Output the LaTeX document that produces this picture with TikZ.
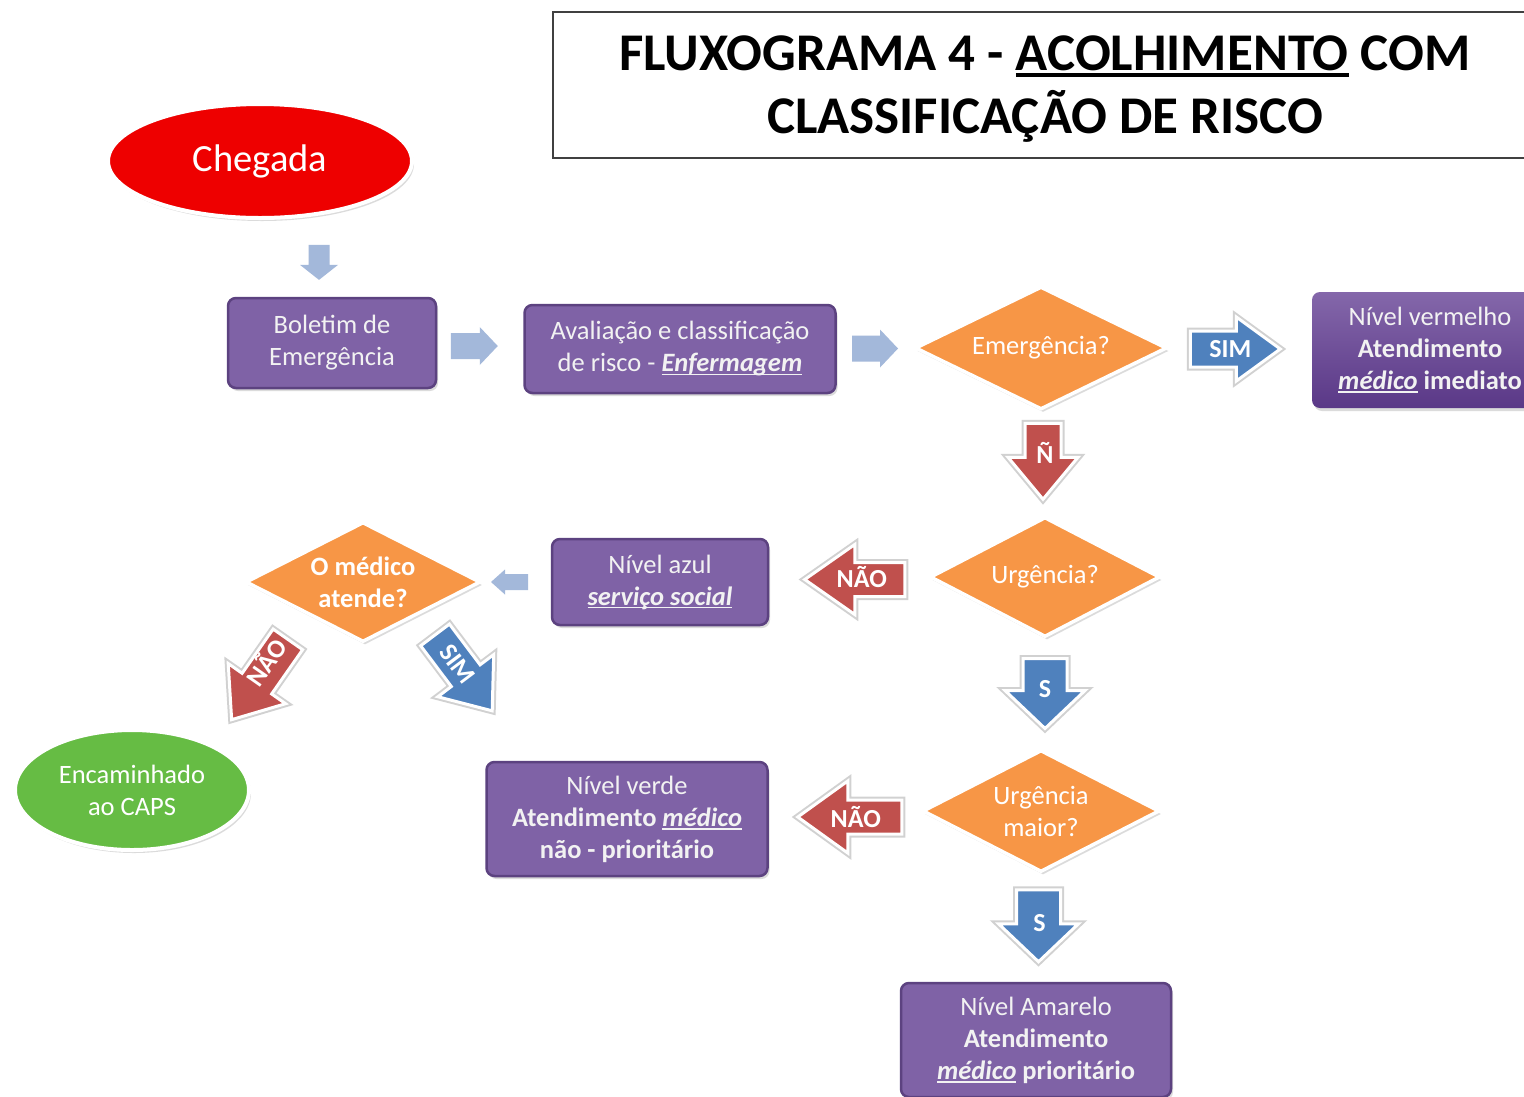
\documentclass[tikz,border=0pt]{standalone}
\usepackage{fontspec}
\setmainfont{Carlito}
\usetikzlibrary{shapes.geometric,shadows,calc}

\definecolor{boxfill}{HTML}{7F62A6}
\definecolor{boxedge}{HTML}{5C4280}
\definecolor{boxtop}{HTML}{8467AA}
\definecolor{boxdeep}{HTML}{5A3887}
\definecolor{decfill}{HTML}{F79646}
\definecolor{redarrow}{HTML}{C0504D}
\definecolor{bluearrow}{HTML}{4F81BD}
\definecolor{paleblue}{HTML}{A3B8DA}
\definecolor{startred}{HTML}{EE0000}
\definecolor{capsgreen}{HTML}{66BC44}
\definecolor{boxtext}{HTML}{F2F2F2}
\definecolor{titleedge}{HTML}{404040}

% underline drawn as a rule scaled with the current font
\newcommand{\ulx}[1]{\leavevmode\setbox0\hbox{#1}\rlap{\rule[-0.13em]{\wd0}{0.07em}}\box0\relax}
\newcommand{\bu}[1]{\ulx{\textbf{\textit{#1}}}}

% block arrow: #1 centre, #2 direction, #3 length, #4 shaft width,
% #5 head width, #6 head length, #7 style, #8 name of the centre
\newcommand{\blockarrow}[8]{%
  \begin{scope}[shift={#1}, rotate=#2]
    \coordinate (#8) at (0,0);
    \path[#7] ({-#3/2},{-#4/2}) -- ({#3/2-#6},{-#4/2}) -- ({#3/2-#6},{-#5/2})
      -- ({#3/2},0) -- ({#3/2-#6},{#5/2}) -- ({#3/2-#6},{#4/2})
      -- ({-#3/2},{#4/2}) -- cycle;
  \end{scope}}

\tikzset{
  softshadow/.style={drop shadow={shadow xshift=2pt, shadow yshift=-3pt, opacity=0.28}},
  bodytext/.style={font=\fontsize{26.5}{32}\selectfont},
  purplebox/.style={rectangle, rounded corners=8pt, fill=boxfill, draw=boxedge,
    line width=2.5pt, text=boxtext, align=center, inner sep=0pt, bodytext, softshadow},
  decision/.style={diamond, aspect=2.2, fill=decfill, draw=white, line width=3.5pt, text=white,
    align=center, inner sep=0pt, bodytext, softshadow},
  oval/.style={ellipse, draw=white, line width=4pt, text=white, align=center,
    inner sep=0pt, softshadow},
  palearrow/.style={fill=paleblue},
  redblock/.style={fill=redarrow, draw=white, line width=3pt,
    preaction={draw=black, opacity=0.18, line width=7pt}},
  blueblock/.style={fill=bluearrow, draw=white, line width=3pt,
    preaction={draw=black, opacity=0.18, line width=7pt}},
  arrowtext/.style={text=white, inner sep=0pt, font=\bfseries\fontsize{26}{30}\selectfont},
  titletext/.style={anchor=base, inner sep=0pt, font=\bfseries\fontsize{53}{63}\selectfont},
}

\begin{document}
\begin{tikzpicture}[x=1pt,y=-1pt]
\useasboundingbox (0,0) rectangle (1524,1096);
\clip (0,0) rectangle (1524,1096);
\fill[white] (0,0) rectangle (1524,1096);

% heading
\draw[titleedge, line width=1.5pt, fill=white] (553,12) rectangle (1570,158);
\node[titletext] (title1) at (1045,70) {FLUXOGRAMA 4 - \ulx{ACOLHIMENTO} COM};
\node[titletext] (title2) at (1045,133) {CLASSIFICAÇÃO DE RISCO};

% nodes
\node[oval, fill=startred, minimum width=304, minimum height=114,
  font=\fontsize{38.5}{44}\selectfont] (chegada) at (260,161) {Chegada};
\node[purplebox, minimum width=208, minimum height=90] (boletim) at (332,343)
  {Boletim de\\Emergência};
\node[purplebox, minimum width=311, minimum height=88] (aval) at (680,349)
  {Avaliação e classificação\\de risco - \bu{Enfermagem}};
\node[decision, minimum width=252, minimum height=123] (emerg) at (1041,348) {Emergência?};
\node[rectangle, rounded corners=8pt, top color=boxtop, bottom color=boxdeep,
  text=boxtext, align=center, inner sep=0pt, bodytext, softshadow,
  minimum width=236, minimum height=116] (verm) at (1430,350)
  {Nível vermelho\\\textbf{Atendimento}\\\bu{médico} \textbf{imediato}};
\node[decision, minimum width=230, minimum height=120] (urg) at (1045,577) {Urgência?};
\node[purplebox, minimum width=216, minimum height=86] (azul) at (660,582)
  {Nível azul\\\bu{serviço social}};
\node[decision, minimum width=235, minimum height=120] (medico) at (363,582)
  {\textbf{O médico}\\\textbf{atende?}};
\node[oval, fill=capsgreen, minimum width=234, minimum height=120, bodytext] (caps)
  at (132,790) {Encaminhado\\ao CAPS};
\node[decision, minimum width=237, minimum height=122] (maior) at (1041,811)
  {Urgência\\maior?};
\node[purplebox, minimum width=281, minimum height=114] (verde) at (627,819)
  {Nível verde\\\textbf{Atendimento} \bu{médico}\\\textbf{não - prioritário}};
\node[purplebox, minimum width=270, minimum height=114] (amarelo) at (1036,1040)
  {Nível Amarelo\\\textbf{Atendimento}\\\bu{médico} \textbf{prioritário}};

% connectors
\blockarrow{($(chegada.south)!0.5!(boletim.north)+(23,4)$)}{-90}{35}{21}{38}{15}{palearrow}{a1}
\blockarrow{($(boletim.east)!0.5!(aval.west)+(-6,0)$)}{0}{47}{26}{38}{18}{palearrow}{a2}
\blockarrow{($(aval.east)!0.5!(emerg.west)$)}{0}{46}{26}{38}{18}{palearrow}{a3}
\blockarrow{($(emerg.east)!0.5!(verm.west)+(-5,0)$)}{0}{90}{36}{64}{44}{blueblock}{a4}
\blockarrow{($(emerg.south)!0.5!(urg.north)+(0,-2)$)}{-90}{76}{36}{70}{42}{redblock}{a5}
\blockarrow{($(urg.west)!0.5!(azul.east)+(6,0)$)}{180}{100}{34}{70}{50}{redblock}{a6}
\blockarrow{($(azul.west)!0.5!(medico.east)+(-7,0)$)}{180}{37}{16}{25}{14}{palearrow}{a7}
\blockarrow{($(medico.south west)!0.5!(caps.north east)$)}{235}{98}{36}{70}{44}{redblock}{a8}
\blockarrow{($(medico.south east)+(41,60)$)}{-53}{95}{36}{70}{44}{blueblock}{a9}
\blockarrow{($(urg.south)!0.5!(maior.north)+(2,0)$)}{-90}{70}{44}{80}{38}{blueblock}{a10}
\blockarrow{($(maior.west)!0.5!(verde.east)+(5,2)$)}{180}{104}{34}{72}{50}{redblock}{a11}
\blockarrow{($(maior.south)!0.5!(amarelo.north)+(0,-2)$)}{-90}{72}{44}{80}{38}{blueblock}{a12}

% connector labels
\node[arrowtext] (l4) at ($(a4)+(-5,0)$) {SIM};
\node[arrowtext] (l5) at ($(a5)+(2,-8)$) {Ñ};
\node[arrowtext] (l6) at ($(a6)+(7,-3)$) {NÃO};
\node[arrowtext, rotate=55] (l8) at ($(a8)+(6,-18)$) {NÃO};
\node[arrowtext, rotate=-53] (l9) at ($(a9)+(-6,-9)$) {SIM};
\node[arrowtext] (l10) at ($(a10)+(0,-4)$) {S};
\node[arrowtext] (l11) at ($(a11)+(6,0)$) {NÃO};
\node[arrowtext] (l12) at ($(a12)+(1,-3)$) {S};
\end{tikzpicture}
\end{document}
